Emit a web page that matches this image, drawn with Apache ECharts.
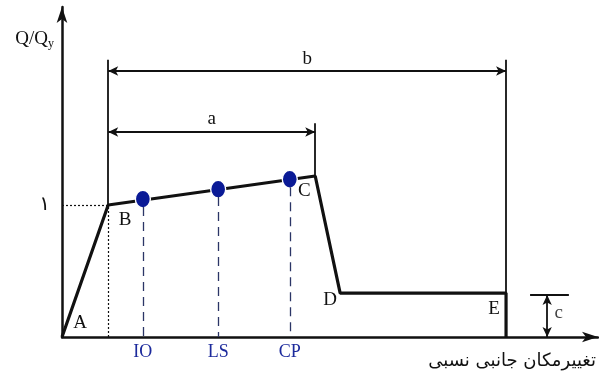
<!DOCTYPE html>
<html>
<head>
<meta charset="utf-8">
<script src="https://cdn.jsdelivr.net/npm/echarts@6/dist/echarts.min.js"></script>
<style>
  html, body { margin: 0; padding: 0; background: #fff; }
  #chart { width: 599px; height: 381px; }
</style>
</head>
<body>
<div id="chart"></div>
<script>
// curve A-B-C-D-E (x: drift, y: Q/Qy)
const curveX = [0, 1, 5.48, 6.02, 9.61, 9.61];
const curveY = [0, 1, 1.22, 0.333, 0.333, 0];
const curveLabels = ["A", "B", "C", "D", "E", ""];

// performance levels
const levelNames = ["IO", "LS", "CP"];
const levelX = [1.75, 3.38, 4.93];
const levelY = [1.045, 1.12, 1.195];

// dimension lines
const bY = 2.015;
const aY = 1.553;
const cTop = 0.318;
const cX = 10.5;

const serif = "Liberation Serif";
const black = "#111";

const chart = echarts.init(document.getElementById("chart"));

const curveData = curveX.map((x, i) => [x, curveY[i]]);
const labelOffsets = [[18, -14], [17, 15], [-11, 15], [-10, 7], [-12, 16], [0, 0]];

const option = {
  animation: false,
  grid: { left: 62, right: 1, top: 7, bottom: 44 },
  xAxis: {
    type: "value",
    min: 0,
    max: 11.6,
    splitLine: { show: false },
    axisTick: { show: false },
    axisLine: {
      onZero: false,
      symbol: ["none", "arrow"],
      symbolSize: [8, 16],
      lineStyle: { color: black, width: 2.5 },
    },
    axisLabel: {
      customValues: levelX,
      formatter: (v) => levelNames[levelX.indexOf(v)] || "",
      color: "#1c2a9c",
      fontFamily: serif,
      fontSize: 18,
      margin: 6,
    },
    name: "تغییرمکان جانبی نسبی",
    nameLocation: "end",
    nameGap: -2,
    nameTextStyle: {
      fontFamily: "DejaVu Sans",
      fontSize: 18,
      color: black,
      align: "right",
      verticalAlign: "top",
      padding: [15, 0, 0, 0],
    },
  },
  yAxis: {
    type: "value",
    min: 0,
    max: 2.5,
    splitLine: { show: false },
    axisTick: { show: false },
    axisLine: {
      symbol: ["none", "arrow"],
      symbolSize: [8, 16],
      lineStyle: { color: black, width: 2.5 },
    },
    axisLabel: {
      customValues: [1],
      formatter: () => "۱",
      fontFamily: "DejaVu Sans",
      fontSize: 20,
      color: black,
      margin: 12,
      padding: [0, 0, 12, 0],
    },
    name: "{a|Q/Q}{s|y}",
    nameLocation: "end",
    nameGap: -21,
    nameTextStyle: {
      align: "right",
      verticalAlign: "top",
      padding: [0, 8, 0, 0],
      rich: {
        a: { fontFamily: serif, fontSize: 19, color: black },
        s: { fontFamily: serif, fontSize: 12, color: black, verticalAlign: "bottom", padding: [10, 0, 0, 0] },
      },
    },
  },
  series: [
    {
      // thin solid guide lines
      type: "line",
      data: [],
      markLine: {
        silent: true,
        symbol: ["none", "none"],
        label: { show: false },
        lineStyle: { color: black, width: 1.8, type: "solid" },
        data: [
          [{ coord: [1, 1] }, { coord: [1, 2.1] }],
          [{ coord: [5.48, 1.22] }, { coord: [5.48, 1.62] }],
          [{ coord: [9.61, 0.333] }, { coord: [9.61, 2.1] }],
          [{ coord: [10.13, cTop] }, { coord: [10.97, cTop] }],
        ],
      },
    },
    {
      // dimension arrows a, b, c
      type: "line",
      data: [],
      markLine: {
        silent: true,
        symbol: ["arrow", "arrow"],
        symbolSize: [7, 10],
        lineStyle: { color: black, width: 1.8, type: "solid" },
        label: {
          show: true,
          position: "middle",
          formatter: "{b}",
          fontFamily: serif,
          fontSize: 19,
          color: black,
          distance: 3,
        },
        data: [
          [{ name: "b", coord: [1, bY] }, { coord: [9.61, bY] }],
          [{ name: "a", coord: [1, aY] }, { coord: [5.48, aY] }],
          [{ name: "", coord: [cX, cTop] }, { coord: [cX, 0] }],
        ],
      },
    },
    {
      // dotted yield guides
      type: "line",
      data: [],
      markLine: {
        silent: true,
        symbol: ["none", "none"],
        label: { show: false },
        lineStyle: { color: black, width: 1.2, type: [2, 2] },
        data: [
          [{ coord: [0, 1] }, { coord: [1, 1] }],
          [{ coord: [1, 0] }, { coord: [1, 1] }],
        ],
      },
    },
    {
      // c label
      type: "scatter",
      data: [[10.75, 0.18]],
      symbolSize: 0,
      label: {
        show: true,
        position: "inside",
        formatter: "c",
        fontFamily: serif,
        fontSize: 19,
        color: black,
      },
    },
    {
      // force-deformation curve
      type: "line",
      data: curveData.map((d, i) => ({
        value: d,
        label: {
          show: !!curveLabels[i],
          formatter: curveLabels[i],
          position: "inside",
          offset: labelOffsets[i],
          fontFamily: serif,
          fontSize: 19,
          color: black,
        },
      })),
      symbol: "circle",
      symbolSize: 1,
      showSymbol: true,
      itemStyle: { color: black },
      lineStyle: { color: black, width: 3.2 },
      z: 3,
    },
    {
      // performance levels
      type: "scatter",
      data: levelX.map((x, i) => [x, levelY[i]]),
      symbol: "circle",
      symbolSize: [15, 18],
      itemStyle: { color: "#0a1a96", opacity: 1, borderColor: "#fff", borderWidth: 1.5 },
      z: 4,
      markLine: {
        silent: true,
        symbol: ["none", "none"],
        label: { show: false },
        lineStyle: { color: "#2b3566", width: 1.3, type: [9, 6] },
        data: levelX.map((x, i) => [{ coord: [x, levelY[i] - 0.06] }, { coord: [x, 0] }]),
      },
    },
  ],
};

chart.setOption(option);
</script>
</body>
</html>
